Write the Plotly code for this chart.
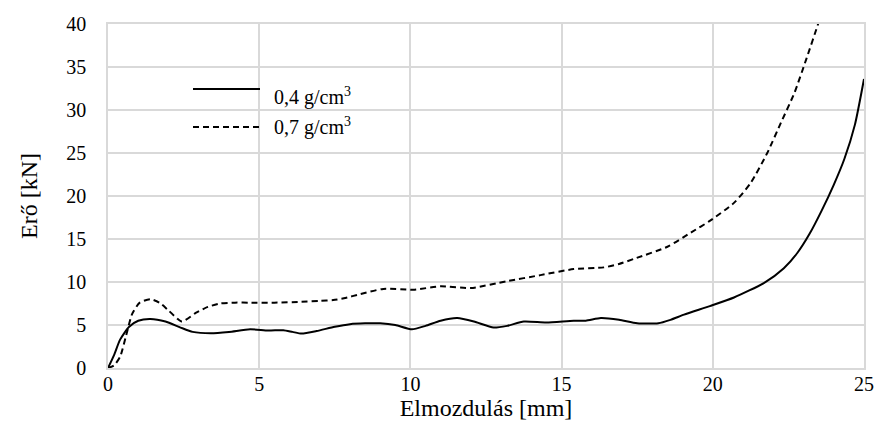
import plotly.graph_objects as go

# Solid curve: 0,4 g/cm3
x_04 = [0, 0.2, 0.4, 0.7, 1.0, 1.4, 1.9, 2.4, 2.8, 3.4, 4.0, 4.7, 5.3, 5.8, 6.1, 6.4, 6.9, 7.5, 8.0, 8.5, 9.0, 9.5,
        10.05, 10.5, 11.0, 11.55, 12.1, 12.75, 13.2, 13.75, 14.5, 15.4, 15.8, 16.3, 16.9, 17.5, 18.2,
        18.6, 19.05, 19.9, 20.7, 21.7, 22.35, 22.8, 23.2, 23.6, 24.0, 24.35, 24.7, 25.0]
y_04 = [0, 1.5, 3.3, 4.8, 5.5, 5.7, 5.4, 4.7, 4.2, 4.05, 4.2, 4.5, 4.35, 4.4, 4.2, 4.0, 4.3, 4.8, 5.1, 5.2, 5.2, 5.0,
        4.5, 4.9, 5.5, 5.8, 5.4, 4.7, 4.9, 5.4, 5.3, 5.5, 5.5, 5.8, 5.6, 5.2, 5.2,
        5.6, 6.2, 7.2, 8.2, 9.9, 11.6, 13.4, 15.6, 18.3, 21.3, 24.3, 28.3, 33.6]

# Dashed curve: 0,7 g/cm3
x_07 = [0, 0.2, 0.4, 0.6, 0.8, 1.05, 1.4, 1.7, 2.0, 2.44, 2.9, 3.3, 3.7, 4.2, 4.7, 5.5, 6.4, 7.0, 7.45, 7.8, 8.35, 9.1,
        10.1, 11.0, 12.0, 13.2, 14.3, 15.4, 16.4, 16.9, 17.4, 18.5, 19.3, 19.9, 20.7, 21.25, 21.8,
        22.25, 22.7, 23.1, 23.5, 23.8]
y_07 = [0, 0.3, 1.3, 3.8, 6.3, 7.6, 8.0, 7.6, 6.7, 5.4, 6.4, 7.1, 7.5, 7.6, 7.6, 7.6, 7.7, 7.8, 7.9, 8.1, 8.6, 9.2,
        9.1, 9.5, 9.3, 10.1, 10.8, 11.5, 11.7, 12.1, 12.7, 14.1, 15.8, 17.1, 19.2, 21.5, 25.0,
        28.5, 32.0, 36.0, 40.2, 43.5]

x_ticks = [0, 5, 10, 15, 20, 25]
y_ticks = [0, 5, 10, 15, 20, 25, 30, 35, 40]
labels = ["0,4 g/cm<sup>3</sup>", "0,7 g/cm<sup>3</sup>"]

FONT = "Liberation Serif"
GRID = "#d9d9d9"
DASH = "6px,4px"

fig = go.Figure()
fig.add_trace(go.Scatter(x=x_04, y=y_04, mode="lines", name=labels[0],
                         line=dict(color="black", width=2, shape="spline", smoothing=0.6),
                         showlegend=False))
fig.add_trace(go.Scatter(x=x_07, y=y_07, mode="lines", name=labels[1],
                         line=dict(color="black", width=2, dash=DASH, shape="spline", smoothing=0.6),
                         showlegend=False))

# Legend drawn manually (long line samples like the reference)
fig.add_shape(type="line", xref="paper", yref="paper", x0=(193-108)/756, x1=(260-108)/756,
              y0=(368-89)/344, y1=(368-89)/344, line=dict(color="black", width=2))
fig.add_shape(type="line", xref="paper", yref="paper", x0=(193-108)/756, x1=(260-108)/756,
              y0=(368-127)/344, y1=(368-127)/344, line=dict(color="black", width=2, dash=DASH))
for lab, py in zip(labels, [96, 127]):
    fig.add_annotation(text=lab, xref="paper", yref="paper", x=(272-108)/756, y=(368-py)/344,
                       xanchor="left", yanchor="middle", showarrow=False,
                       font=dict(family=FONT, size=20, color="black"))

fig.update_layout(
    width=877, height=444,
    margin=dict(l=108, r=13, t=24, b=76, autoexpand=False),
    paper_bgcolor="white", plot_bgcolor="white",
    font=dict(family=FONT, size=20, color="black"),
    showlegend=False,
)
fig.update_xaxes(range=[0, 25], tickvals=x_ticks, showgrid=True, gridcolor=GRID, gridwidth=1.5,
                 zeroline=False, showline=True, linecolor=GRID, linewidth=1.5, mirror=True,
                 ticks="", automargin=False, ticklabelstandoff=-3,
                 title=dict(text="Elmozdulás [mm]", standoff=4),
                 tickfont=dict(family=FONT, size=20, color="black"))
fig.update_yaxes(range=[0, 40], tickvals=y_ticks, showgrid=True, gridcolor=GRID, gridwidth=1.5,
                 zeroline=False, showline=True, linecolor=GRID, linewidth=1.5, mirror=True,
                 ticks="", automargin=False, ticklabelstandoff=16,
                 title=dict(text="Erő [kN]", standoff=22),
                 tickfont=dict(family=FONT, size=20, color="black"))

fig.write_html("out.html")
